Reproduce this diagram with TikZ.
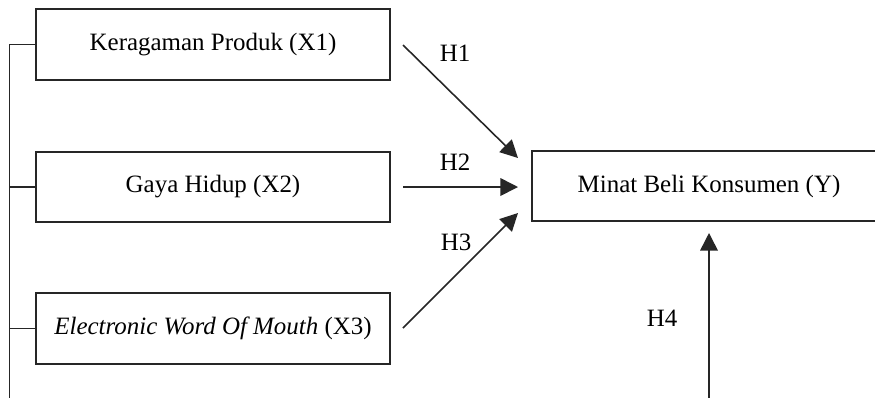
\documentclass[tikz,border=0pt]{standalone}
\usepackage{fontspec}
\setmainfont{Liberation Serif}
\usetikzlibrary{arrows.meta}
\begin{document}
\begin{tikzpicture}[x=0.02cm,y=-0.02cm,
  box/.style={draw=black!85,line width=0.9pt,minimum width=7.08cm,minimum height=1.41cm,inner sep=0pt,font=\fontsize{14.2}{17}\selectfont},
  lbl/.style={inner sep=0pt,font=\fontsize{14.2}{17}\selectfont},
  conn/.style={draw=black!85,line width=0.9pt},
  arr/.style={conn,-{Triangle[length=10pt,width=10pt]}}]
\useasboundingbox (0,0) rectangle (875,397);
\clip (0,0) rectangle (875,397);
\fill[white] (0,0) rectangle (875,397);
\node[box] (x1) at (213,44.5) {Keragaman Produk (X1)};
\node[box] (x2) at (213,187) {Gaya Hidup (X2)};
\node[box] (x3) at (213,328.5) {\textit{Electronic Word Of Mouth} (X3)};
\node[box] (y) at (709,186) {Minat Beli Konsumen (Y)};
\coordinate (bus) at (9.5,400);
\draw[conn] (x1.west) -- (x1.west -| bus) -- (bus);
\draw[conn] (x2.west) -- (x2.west -| bus);
\draw[conn] (x3.west) -- (x3.west -| bus);
\coordinate (s1) at (403,45);
\coordinate (e1) at (518,158);
\coordinate (s2) at (403,187);
\coordinate (e2) at (518,187);
\coordinate (s3) at (403,328);
\coordinate (e3) at (518,213);
\coordinate (s4) at (709,400);
\coordinate (e4) at (709,233);
\draw[arr] (s1) -- (e1);
\draw[arr] (s2) -- (e2);
\draw[arr] (s3) -- (e3);
\draw[arr] (s4) -- (e4);
\node[lbl] (h1) at (455,53) {H1};
\node[lbl] (h2) at (455,162) {H2};
\node[lbl] (h3) at (456,242) {H3};
\node[lbl] (h4) at (662,318) {H4};
\end{tikzpicture}
\end{document}
